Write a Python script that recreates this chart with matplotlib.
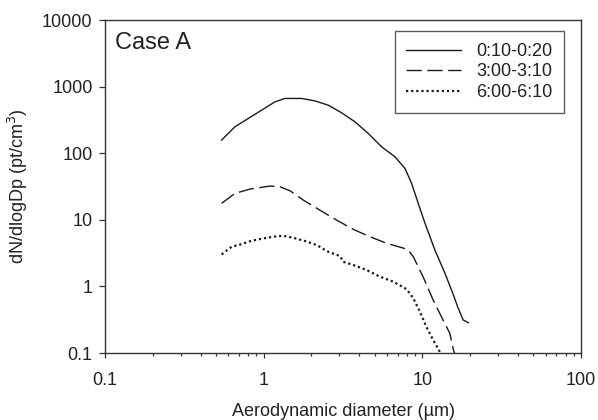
import matplotlib
matplotlib.use("Agg")
import matplotlib.pyplot as plt
from matplotlib.ticker import FixedLocator, FixedFormatter, LogLocator, NullFormatter, NullLocator

plt.rcParams['font.family'] = ['Liberation Sans', 'DejaVu Sans']

# Data (aerodynamic diameter in um, dN/dlogDp)
d_a = [0.543, 0.659, 0.80, 0.971, 1.178, 1.362, 1.735, 2.10, 2.55, 3.10, 3.76, 4.56, 5.54, 6.72, 7.77,
       8.56, 9.42, 10.4, 12.0, 13.9, 15.7, 16.8, 18.1, 19.5]
n_a = [158, 250, 334, 445, 593, 667, 667, 614, 529, 406, 297, 199, 125, 88.7, 59.3,
       35.3, 17.7, 8.86, 3.52, 1.57, 0.743, 0.474, 0.313, 0.285]

d_b = [0.543, 0.659, 0.819, 1.096, 1.267, 1.465, 1.778, 2.26, 2.88, 3.67, 4.68, 5.96, 7.58, 8.15, 8.77,
       10.1, 11.7, 13.5, 14.9, 15.7, 16.2]
n_b = [17.7, 25.0, 29.0, 32.2, 31.4, 27.4, 19.8, 14.0, 9.93, 7.2, 5.58, 4.44, 3.77, 3.52, 2.79,
       1.40, 0.625, 0.313, 0.198, 0.111, 0.09]

d_c = [0.543, 0.629, 0.727, 0.84, 0.995, 1.149, 1.33, 1.54, 1.82, 2.16, 2.55, 3.03, 3.17, 3.67, 4.46,
       5.41, 6.56, 7.96, 8.77, 9.66, 10.6, 11.7, 12.9, 13.3]
n_c = [3.03, 3.95, 4.33, 4.86, 5.27, 5.58, 5.77, 5.38, 4.81, 4.18, 3.32, 2.86, 2.35, 2.10, 1.76,
       1.40, 1.18, 0.91, 0.663, 0.417, 0.248, 0.157, 0.104, 0.09]

labels = ["0:10-0:20", "3:00-3:10", "6:00-6:10"]
xticks = [0.1, 1, 10, 100]
xticklabels = ["0.1", "1", "10", "100"]
yticks = [0.1, 1, 10, 100, 1000, 10000]
yticklabels = ["0.1", "1", "10", "100", "1000", "10000"]

fig = plt.figure(figsize=(5.98, 4.20), dpi=100)
ax = fig.add_axes([0.1756, 0.1595, 0.9716 - 0.1756, 0.952 - 0.1595])

lc = '#1a1a1a'
ax.plot(d_a, n_a, color=lc, lw=1.0, ls='-', label=labels[0])
ax.plot(d_b, n_b, color=lc, lw=1.0, ls=(0, (11, 4)), label=labels[1])
ax.plot(d_c, n_c, color=lc, lw=1.6, ls=(0, (1, 1.3)), label=labels[2])

ax.set_xscale('log')
ax.set_yscale('log')
ax.set_xlim(0.1, 100)
ax.set_ylim(0.1, 10000)

ax.xaxis.set_major_locator(FixedLocator(xticks))
ax.xaxis.set_major_formatter(FixedFormatter(xticklabels))
ax.xaxis.set_minor_locator(LogLocator(base=10, subs=range(2, 10)))
ax.xaxis.set_minor_formatter(NullFormatter())
ax.yaxis.set_major_locator(FixedLocator(yticks))
ax.yaxis.set_major_formatter(FixedFormatter(yticklabels))
ax.yaxis.set_minor_locator(NullLocator())

fs = 13
txtc = '#222222'
ax.tick_params(axis='x', which='major', direction='out', length=3.5, width=0.9, pad=10, labelsize=fs, colors='#333333', labelcolor=txtc)
ax.tick_params(axis='x', which='minor', direction='out', length=2, width=0.9, colors='#333333')
ax.tick_params(axis='y', which='major', direction='out', length=4, width=0.9, pad=5, labelsize=fs, colors='#333333', labelcolor=txtc)
for s in ax.spines.values():
    s.set_linewidth(1.0)
    s.set_color('#333333')

ax.set_xlabel("Aerodynamic diameter (\u00b5m)", fontsize=13, color=txtc, labelpad=10)
ax.set_ylabel("dN/dlogDp (pt/cm$^3$)", fontsize=13, color=txtc, labelpad=9)

ax.text(0.021, 0.963, "Case A", transform=ax.transAxes, fontsize=17, color=txtc, va='top', ha='left')

leg = ax.legend(loc='upper right', bbox_to_anchor=(0.964, 0.967), borderaxespad=0,
                fancybox=False, frameon=True, edgecolor='#333333', fontsize=fs,
                handlelength=3.05, handletextpad=0.8, labelspacing=0.2, borderpad=0.65)
leg.get_frame().set_linewidth(1.0)
for t in leg.get_texts():
    t.set_color(txtc)

fig.savefig("out.png", dpi=100)
